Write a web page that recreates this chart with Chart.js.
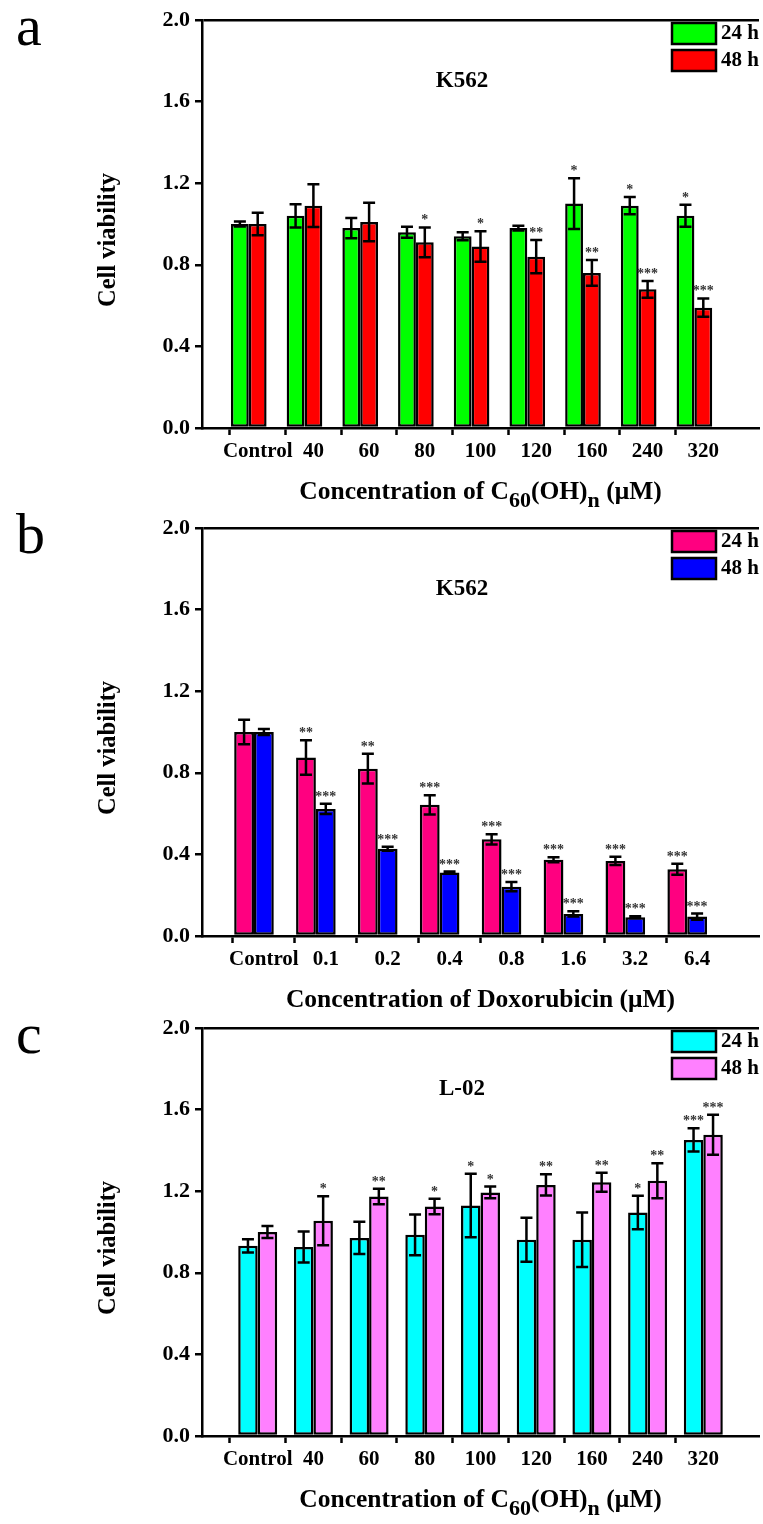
<!DOCTYPE html>
<html>
<head>
<meta charset="utf-8">
<script src="https://cdn.jsdelivr.net/npm/chart.js@4.4.1/dist/chart.umd.min.js"></script>
<style>
html,body{margin:0;padding:0;background:#fff;width:763px;height:1524px;overflow:hidden}
.panel{position:absolute;left:0;width:763px}
canvas{display:block}
</style>
</head>
<body>
<div class="panel" style="top:0px;height:520px"><canvas id="chartA" width="763" height="520"></canvas></div>
<div class="panel" style="top:508px;height:515px"><canvas id="chartB" width="763" height="515"></canvas></div>
<div class="panel" style="top:1008px;height:516px"><canvas id="chartC" width="763" height="516"></canvas></div>
<script>
// ---------------- data ----------------
const c60Concentrations = ['Control', '40', '60', '80', '100', '120', '160', '240', '320'];
const doxConcentrations = ['Control', '0.1', '0.2', '0.4', '0.8', '1.6', '3.2', '6.4'];
const yTickValues = [0.0, 0.4, 0.8, 1.2, 1.6, 2.0];
const seriesNames = ['24 h', '48 h'];

// (a) K562 + C60(OH)n
const k562C60_24h     = [1.00, 1.04, 0.98, 0.96, 0.94, 0.98, 1.10, 1.09, 1.04];
const k562C60_24h_err = [0.012, 0.057, 0.050, 0.027, 0.020, 0.012, 0.124, 0.042, 0.054];
const k562C60_24h_sig = ['', '', '', '', '', '', '*', '*', '*'];
const k562C60_48h     = [1.00, 1.09, 1.01, 0.91, 0.89, 0.84, 0.76, 0.68, 0.59];
const k562C60_48h_err = [0.055, 0.105, 0.094, 0.073, 0.075, 0.081, 0.063, 0.041, 0.045];
const k562C60_48h_sig = ['', '', '', '*', '*', '**', '**', '***', '***'];

// (b) K562 + Doxorubicin
const k562Dox_24h     = [1.00, 0.875, 0.82, 0.643, 0.474, 0.374, 0.368, 0.327];
const k562Dox_24h_err = [0.060, 0.085, 0.073, 0.047, 0.025, 0.012, 0.020, 0.027];
const k562Dox_24h_sig = ['', '**', '**', '***', '***', '***', '***', '***'];
const k562Dox_48h     = [1.00, 0.623, 0.428, 0.311, 0.242, 0.108, 0.092, 0.095];
const k562Dox_48h_err = [0.015, 0.025, 0.010, 0.005, 0.023, 0.013, 0.005, 0.015];
const k562Dox_48h_sig = ['', '***', '***', '***', '***', '***', '***', '***'];

// (c) L-02 + C60(OH)n
const l02C60_24h     = [0.932, 0.927, 0.971, 0.986, 1.130, 0.962, 0.962, 1.096, 1.451];
const l02C60_24h_err = [0.033, 0.076, 0.079, 0.100, 0.156, 0.108, 0.134, 0.082, 0.057];
const l02C60_24h_sig = ['', '', '', '', '*', '', '', '*', '***'];
const l02C60_48h     = [1.00, 1.055, 1.174, 1.125, 1.194, 1.231, 1.244, 1.251, 1.477];
const l02C60_48h_err = [0.030, 0.120, 0.038, 0.038, 0.029, 0.052, 0.047, 0.086, 0.098];
const l02C60_48h_sig = ['', '*', '**', '*', '*', '**', '**', '**', '***'];

// ---------------- rendering ----------------
const FONT = "'Liberation Serif', 'Times New Roman', serif";
Chart.defaults.font.family = FONT;
Chart.defaults.color = '#000';

function pad(arr, v) { return [v].concat(arr, [v]); }

function drawSegments(ctx, segs, cx, baseY, size) {
  let total = 0;
  const subSize = Math.round(size * 0.85);
  segs.forEach(s => {
    ctx.font = 'bold ' + (s[1] ? subSize : size) + 'px ' + FONT;
    total += ctx.measureText(s[0]).width;
  });
  let x = cx - total / 2;
  ctx.textAlign = 'left';
  ctx.textBaseline = 'alphabetic';
  segs.forEach(s => {
    ctx.font = 'bold ' + (s[1] ? subSize : size) + 'px ' + FONT;
    ctx.fillText(s[0], x, baseY + (s[1] ? size * 0.3 : 0));
    x += ctx.measureText(s[0]).width;
  });
}

const annotPlugin = {
  id: 'annot',
  afterDatasetsDraw(chart) {
    const ctx = chart.ctx, ys = chart.scales.y;
    chart.data.datasets.forEach((ds, di) => {
      if (!ds.errors) return;
      const meta = chart.getDatasetMeta(di);
      meta.data.forEach((bar, i) => {
        const v = ds.data[i], e = ds.errors[i];
        if (v == null) return;
        const x = bar.x;
        const yTop = ys.getPixelForValue(v + e);
        const yBot = ys.getPixelForValue(v - e);
        ctx.save();
        ctx.strokeStyle = '#000';
        ctx.lineWidth = 2.5;
        ctx.beginPath();
        ctx.moveTo(x, yTop); ctx.lineTo(x, yBot);
        ctx.moveTo(x - 6, yTop); ctx.lineTo(x + 6, yTop);
        ctx.moveTo(x - 6, yBot); ctx.lineTo(x + 6, yBot);
        ctx.stroke();
        if (ds.sig[i]) {
          ctx.fillStyle = '#333';
          ctx.font = 'bold 14px ' + FONT;
          ctx.textAlign = 'center';
          ctx.textBaseline = 'alphabetic';
          ctx.fillText(ds.sig[i], x, yTop - 3);
        }
        ctx.restore();
      });
    });
  },
  afterDraw(chart, args, o) {
    const ctx = chart.ctx, ca = chart.chartArea;
    ctx.save();
    ctx.fillStyle = '#000';
    // panel letter
    ctx.font = '58px ' + FONT;
    ctx.textAlign = 'left';
    ctx.textBaseline = 'alphabetic';
    ctx.fillText(o.letter, 16, ca.top + 25);
    // cell line title
    ctx.font = 'bold 23px ' + FONT;
    ctx.textAlign = 'center';
    ctx.textBaseline = 'middle';
    ctx.fillText(o.cellLine, 462, ca.top + 61);
    // y title
    ctx.save();
    ctx.translate(109, ca.top + 220);
    ctx.rotate(-Math.PI / 2);
    ctx.font = 'bold 24.5px ' + FONT;
    ctx.textAlign = 'center';
    ctx.textBaseline = 'middle';
    ctx.fillText('Cell viability', 0, 0);
    ctx.restore();
    // x title
    drawSegments(ctx, o.xTitle, (ca.left + ca.right) / 2, ca.bottom + 71, 25.5);
    // legend
    const items = chart.data.datasets.filter(d => d.label);
    items.forEach((d, k) => {
      const bx = 672, by = ca.top + 3 + k * 27;
      ctx.fillStyle = d.backgroundColor;
      ctx.fillRect(bx, by, 44, 21);
      ctx.strokeStyle = '#000';
      ctx.lineWidth = 2.5;
      ctx.strokeRect(bx, by, 44, 21);
      ctx.fillStyle = '#000';
      ctx.font = 'bold 21px ' + FONT;
      ctx.textAlign = 'left';
      ctx.textBaseline = 'middle';
      ctx.fillText(d.label, bx + 49, by + 11);
    });
    ctx.restore();
  }
};

function makePanel(id, categories, series, colors, useSpacer, catPct, opts) {
  const canvas = document.getElementById(id);
  const H = canvas.height;
  const labels = pad(categories, '');
  const datasets = series.map((s, k) => ({
    label: seriesNames[k],
    data: pad(s.values, null),
    errors: pad(s.errors, null),
    sig: pad(s.sig, ''),
    backgroundColor: colors[k],
    borderColor: '#000',
    borderWidth: 2.5,
    borderSkipped: false
  }));
  if (useSpacer) {
    datasets.push({ label: '', data: labels.map(() => null), backgroundColor: 'rgba(0,0,0,0)', borderWidth: 0 });
  }
  const last = labels.length - 1;
  return new Chart(canvas, {
    type: 'bar',
    data: { labels, datasets },
    plugins: [annotPlugin],
    options: {
      responsive: false,
      animation: false,
      devicePixelRatio: 1,
      layout: { padding: { top: 20, left: 0, right: 0, bottom: 0 } },
      datasets: { bar: { categoryPercentage: catPct, barPercentage: 1 } },
      plugins: {
        legend: { display: false },
        title: { display: false },
        tooltip: { enabled: false },
        annot: opts
      },
      scales: {
        x: {
          type: 'category',
          offset: false,
          afterFit: s => { s.height = H - 20 - 408; },
          border: { display: true, color: '#000', width: 2.5 },
          grid: {
            drawOnChartArea: false,
            drawTicks: true,
            tickLength: 7,
            tickWidth: 2.5,
            tickColor: c => (c.index === 0 || c.index === last) ? 'rgba(0,0,0,0)' : '#000'
          },
          ticks: {
            autoSkip: false,
            maxRotation: 0,
            minRotation: 0,
            padding: 4,
            color: '#000',
            font: { family: FONT, size: 21, weight: 'bold' }
          }
        },
        y: {
          min: 0,
          max: 2,
          afterFit: s => { s.width = 202; },
          afterBuildTicks: s => { s.ticks = yTickValues.map(v => ({ value: v })); },
          border: { display: true, color: '#000', width: 2.5 },
          grid: {
            drawOnChartArea: true,
            color: c => (c.tick && Math.abs(c.tick.value - 2) < 1e-9) ? '#000' : 'rgba(0,0,0,0)',
            lineWidth: 2.5,
            tickLength: 7,
            tickWidth: 2.5,
            tickColor: '#000'
          },
          ticks: {
            padding: 5,
            color: '#000',
            font: { family: FONT, size: 22, weight: 'bold' },
            callback: v => Number(v).toFixed(1)
          }
        }
      }
    }
  });
}

const c60Title = [['Concentration of C', false], ['60', true], ['(OH)', false], ['n', true], [' (\u03BCM)', false]];
const doxTitle = [['Concentration of Doxorubicin (\u03BCM)', false]];

makePanel('chartA', c60Concentrations, [
  { values: k562C60_24h, errors: k562C60_24h_err, sig: k562C60_24h_sig },
  { values: k562C60_48h, errors: k562C60_48h_err, sig: k562C60_48h_sig }
], ['#00FF00', '#FF0000'], true, 0.96, { letter: 'a', cellLine: 'K562', xTitle: c60Title });

makePanel('chartB', doxConcentrations, [
  { values: k562Dox_24h, errors: k562Dox_24h_err, sig: k562Dox_24h_sig },
  { values: k562Dox_48h, errors: k562Dox_48h_err, sig: k562Dox_48h_sig }
], ['#FF0080', '#0000FF'], true, 0.96, { letter: 'b', cellLine: 'K562', xTitle: doxTitle });

makePanel('chartC', c60Concentrations, [
  { values: l02C60_24h, errors: l02C60_24h_err, sig: l02C60_24h_sig },
  { values: l02C60_48h, errors: l02C60_48h_err, sig: l02C60_48h_sig }
], ['#00FFFF', '#FF80FF'], false, 0.70, { letter: 'c', cellLine: 'L-02', xTitle: c60Title });
</script>
</body>
</html>
